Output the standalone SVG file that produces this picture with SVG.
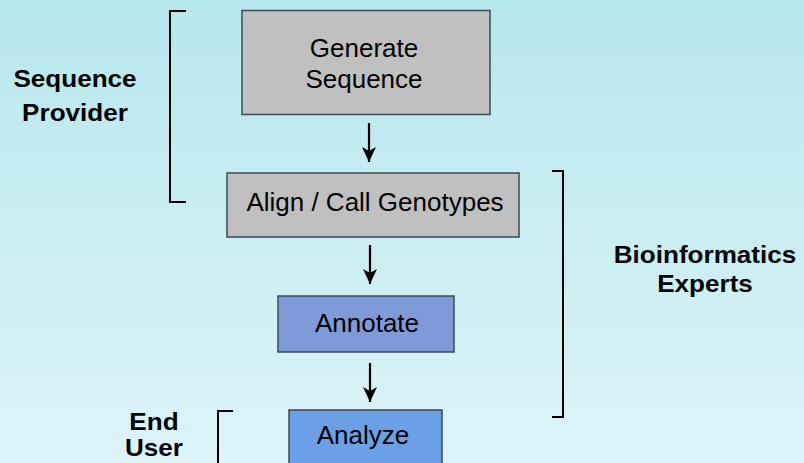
<svg xmlns="http://www.w3.org/2000/svg" width="804" height="463" viewBox="0 0 804 463">
  <defs>
    <linearGradient id="bg" x1="0" y1="0" x2="0" y2="1">
      <stop offset="0" stop-color="#b6e7ed"/>
      <stop offset="1" stop-color="#ddf4f9"/>
    </linearGradient>
    <marker id="head" markerWidth="16" markerHeight="16" viewBox="0 0 16 16" refX="15" refY="8" orient="auto" markerUnits="userSpaceOnUse">
      <path d="M0,1 L15,8 L0,15 L4,8 Z" fill="#000"/>
    </marker>
    <style>
      .box { stroke: #3c4a55; stroke-width: 1.5; }
      .gray { fill: #c0c0c0; }
      .violet { fill: #7f9ad8; }
      .blue { fill: #6ca0e6; }
      .lbl { font-family: "Liberation Sans", Arial, sans-serif; font-size: 26px; fill: #000; text-anchor: middle; }
      .role { font-family: "Liberation Sans", Arial, sans-serif; font-size: 23.5px; font-weight: bold; fill: #000; text-anchor: middle; }
      .arrow { stroke: #000; stroke-width: 2.2; fill: none; marker-end: url(#head); }
      .bracket { stroke: #000; stroke-width: 2; fill: none; }
    </style>
  </defs>

  <rect width="804" height="463" fill="url(#bg)"/>

  <!-- process steps -->
  <g id="generate">
    <rect class="box gray" x="242" y="10.5" width="248" height="104"/>
    <text class="lbl" x="364" y="56.5">Generate</text>
    <text class="lbl" x="364" y="87.5">Sequence</text>
  </g>
  <g id="align">
    <rect class="box gray" x="227" y="173" width="292" height="64"/>
    <text class="lbl" x="375" y="210.5">Align / Call Genotypes</text>
  </g>
  <g id="annotate">
    <rect class="box violet" x="278" y="296" width="176" height="56"/>
    <text class="lbl" x="367" y="331.5">Annotate</text>
  </g>
  <g id="analyze">
    <rect class="box blue" x="289" y="410" width="153" height="60"/>
    <text class="lbl" x="363" y="444">Analyze</text>
  </g>

  <!-- flow arrows -->
  <g id="connectors">
    <line class="arrow" x1="369" y1="123" x2="369" y2="162"/>
    <line class="arrow" x1="370" y1="245" x2="370" y2="284"/>
    <line class="arrow" x1="370" y1="363" x2="370" y2="402"/>
  </g>

  <!-- responsibility brackets and labels -->
  <g id="sequence-provider">
    <path class="bracket" d="M186,11 H170 V202 H186"/>
    <g transform="translate(75,0) scale(1.11,1)">
      <text class="role" x="0" y="87.5">Sequence</text>
      <text class="role" x="0" y="121.5">Provider</text>
    </g>
  </g>
  <g id="bioinformatics-experts">
    <path class="bracket" d="M552,171 H563 V417 H552"/>
    <g transform="translate(705,0) scale(1.11,1)">
      <text class="role" x="0" y="263">Bioinformatics</text>
      <text class="role" x="0" y="292">Experts</text>
    </g>
  </g>
  <g id="end-user">
    <path class="bracket" d="M233,411 H218 V470"/>
    <g transform="translate(154,0) scale(1.11,1)">
      <text class="role" x="0" y="430">End</text>
      <text class="role" x="0" y="456">User</text>
    </g>
  </g>
</svg>
